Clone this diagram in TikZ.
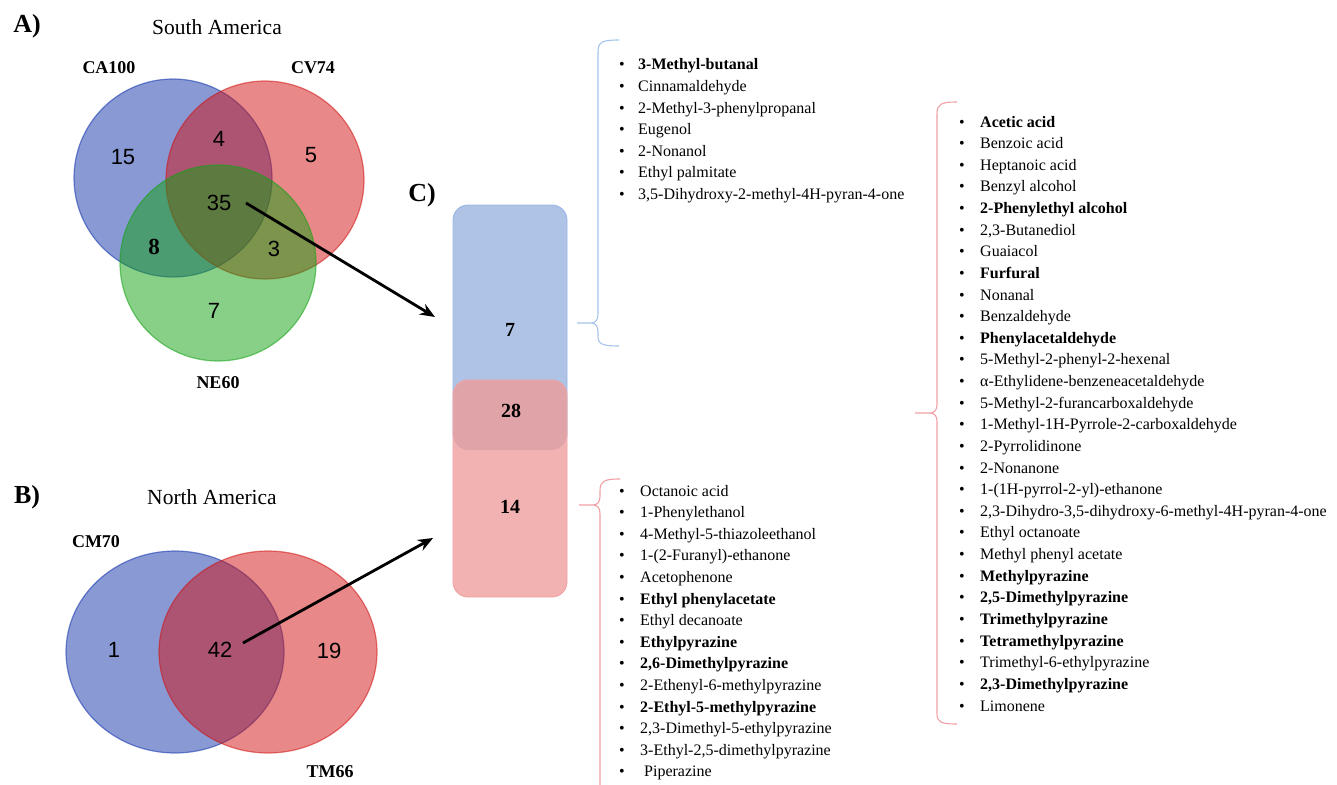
\documentclass[tikz,border=0pt]{standalone}
\usepackage{fontspec}
\setmainfont{Liberation Serif}
\newfontfamily\arialf{Liberation Sans}
\usetikzlibrary{arrows.meta}
\definecolor{vblue}{RGB}{17,51,170}
\definecolor{vred}{RGB}{209,17,17}
\definecolor{vgreen}{RGB}{17,161,17}
\definecolor{cblue}{RGB}{175,195,230}
\definecolor{cbluel}{RGB}{150,180,228}
\definecolor{cred}{RGB}{242,178,178}
\definecolor{credl}{RGB}{240,160,160}
\definecolor{cmix}{RGB}{224,163,168}
\definecolor{brblue}{RGB}{165,195,235}
\definecolor{brred}{RGB}{240,160,165}
\begin{document}
\begin{tikzpicture}[x=1pt,y=-1pt,
  venn/.style={line width=1.2pt, fill opacity=0.5, draw opacity=0.55},
  num/.style={font=\arialf\fontsize{22}{22}\selectfont, inner sep=0},
  numb/.style={font=\bfseries\fontsize{23}{23}\selectfont, inner sep=0},
  lab/.style={font=\bfseries\fontsize{18}{18}\selectfont, inner sep=0},
  ttl/.style={font=\fontsize{21.5}{22}\selectfont, inner sep=0},
  panel/.style={font=\bfseries\fontsize{26}{26}\selectfont, inner sep=0},
  colnum/.style={font=\bfseries\fontsize{20}{20}\selectfont, inner sep=0},
  itm/.style={font=\fontsize{16}{16}\selectfont, inner sep=0, anchor=base west},
  bul/.style={font=\fontsize{16}{16}\selectfont, inner sep=0, anchor=base},
  arr/.style={-{Stealth[length=15pt,width=12pt]}, line width=2.8pt},
  brace/.style={line width=1.1pt}]
\useasboundingbox (0,0) rectangle (1337,784);

% ---------- Panel A ----------
\node[panel] (pA) at (27,26) {A)};
\node[ttl] (tA) at (217,27) {South America};
\fill[white] (0,0) rectangle (0,0);
\filldraw[venn, fill=vblue, draw=vblue] (173,178) circle[radius=99pt];
\filldraw[venn, fill=vred, draw=vred] (265,180) circle[radius=99pt];
\filldraw[venn, fill=vgreen, draw=vgreen] (218,263) circle[radius=98pt];
\node[lab] (lCA) at (109,68) {CA100};
\node[lab] (lCV) at (313,68) {CV74};
\node[lab] (lNE) at (218,383) {NE60};
\node[num] (n15) at (123,157) {15};
\node[num] (n4) at (219,139) {4};
\node[num] (n5) at (311,155) {5};
\node[num] (n35) at (219,203) {35};
\node[numb] (n8) at (154,247) {8};
\node[num] (n3) at (274,249) {3};
\node[num] (n7) at (214,311) {7};

% ---------- Panel B ----------
\node[panel] (pB) at (27,497) {B)};
\node[ttl] (tB) at (212,497) {North America};
\filldraw[venn, fill=vblue, draw=vblue] (175,652) ellipse[x radius=109pt, y radius=101pt];
\filldraw[venn, fill=vred, draw=vred] (268,652) ellipse[x radius=109pt, y radius=101pt];
\node[lab] (lCM) at (96,542) {CM70};
\node[lab] (lTM) at (330,772) {TM66};
\node[num] (n1) at (114,650) {1};
\node[num] (n42) at (220,650) {42};
\node[num] (n19) at (329,651) {19};

% ---------- Panel C ----------
\node[panel] (pC) at (422,195) {C)};
\filldraw[fill=cblue, draw=cbluel, line width=0.8pt, rounded corners=15pt] (453,205) rectangle (567,450);
\filldraw[fill=cred, draw=credl, line width=0.8pt, rounded corners=15pt] (453,380) rectangle (567,597);
\fill[cmix, rounded corners=15pt] (453.4,380.4) rectangle (566.6,450);
\node[colnum] (c7) at (510,330) {7};
\node[colnum] (c28) at (511,411) {28};
\node[colnum] (c14) at (510,507) {14};

% arrows
\coordinate (sA) at (246,203);
\coordinate (eA) at (435,317);
\coordinate (sB) at (243,643);
\coordinate (eB) at (433,538);
\draw[arr] (sA) -- (eA);
\draw[arr] (sB) -- (eB);

% braces
\draw[brace, brblue] (619,40) .. controls (602,40) and (598,42) .. (598,52) -- (598,314)
  .. controls (598,320) and (596,322) .. (592,323) -- (577,323);
\draw[brace, brblue] (592,323) .. controls (596,324) and (598,326) .. (598,332) -- (598,336)
  .. controls (598,344) and (602,346) .. (619,346);
\draw[brace, brred] (620,479) .. controls (604,479) and (600,481) .. (600,491) -- (600,496)
  .. controls (600,502) and (598,504) .. (594,505) -- (579,505);
\draw[brace, brred] (594,505) .. controls (598,506) and (600,508) .. (600,514) -- (600,800);
\draw[brace, brred] (957,102) .. controls (941,102) and (937,104) .. (937,114) -- (937,404)
  .. controls (937,410) and (935,412) .. (931,413) -- (915,413);
\draw[brace, brred] (931,413) .. controls (935,414) and (937,416) .. (937,422) -- (937,714)
  .. controls (937,722) and (941,724) .. (957,724);

% lists
\foreach \t [count=\i from 0] in {{\textbf{3-Methyl-butanal}}, Cinnamaldehyde,
  2-Methyl-3-phenylpropanal, Eugenol, 2-Nonanol, Ethyl palmitate,
  {3,5-Dihydroxy-2-methyl-4H-pyran-4-one}} {
  \node[bul] (ub\i) at (622,{70+21.5*\i}) {\textbullet};
  \node[itm] (ut\i) at (638,{70+21.5*\i}) {\t};
}
\foreach \t [count=\i from 0] in {Octanoic acid, 1-Phenylethanol,
  4-Methyl-5-thiazoleethanol, 1-(2-Furanyl)-ethanone, Acetophenone,
  {\textbf{Ethyl phenylacetate}}, Ethyl decanoate, {\textbf{Ethylpyrazine}},
  {\textbf{2,6-Dimethylpyrazine}}, 2-Ethenyl-6-methylpyrazine,
  {\textbf{2-Ethyl-5-methylpyrazine}}, {2,3-Dimethyl-5-ethylpyrazine},
  {3-Ethyl-2,5-dimethylpyrazine}, {\hspace{4pt}Piperazine}} {
  \node[bul] (vb\i) at (622,{496+21.6*\i}) {\textbullet};
  \node[itm] (vt\i) at (640,{496+21.6*\i}) {\t};
}
\foreach \t [count=\i from 0] in {{\textbf{Acetic acid}}, Benzoic acid,
  Heptanoic acid, Benzyl alcohol, {\textbf{2-Phenylethyl alcohol}},
  {2,3-Butanediol}, Guaiacol, {\textbf{Furfural}}, Nonanal, Benzaldehyde,
  {\textbf{Phenylacetaldehyde}}, 5-Methyl-2-phenyl-2-hexenal,
  α-Ethylidene-benzeneacetaldehyde, 5-Methyl-2-furancarboxaldehyde,
  1-Methyl-1H-Pyrrole-2-carboxaldehyde, 2-Pyrrolidinone, 2-Nonanone,
  1-(1H-pyrrol-2-yl)-ethanone,
  {2,3-Dihydro-3,5-dihydroxy-6-methyl-4H-pyran-4-one}, Ethyl octanoate,
  Methyl phenyl acetate, {\textbf{Methylpyrazine}},
  {\textbf{2,5-Dimethylpyrazine}}, {\textbf{Trimethylpyrazine}},
  {\textbf{Tetramethylpyrazine}}, Trimethyl-6-ethylpyrazine,
  {\textbf{2,3-Dimethylpyrazine}}, Limonene} {
  \node[bul] (wb\i) at (962,{127+21.63*\i}) {\textbullet};
  \node[itm] (wt\i) at (980,{127+21.63*\i}) {\t};
}
\end{tikzpicture}
\end{document}
